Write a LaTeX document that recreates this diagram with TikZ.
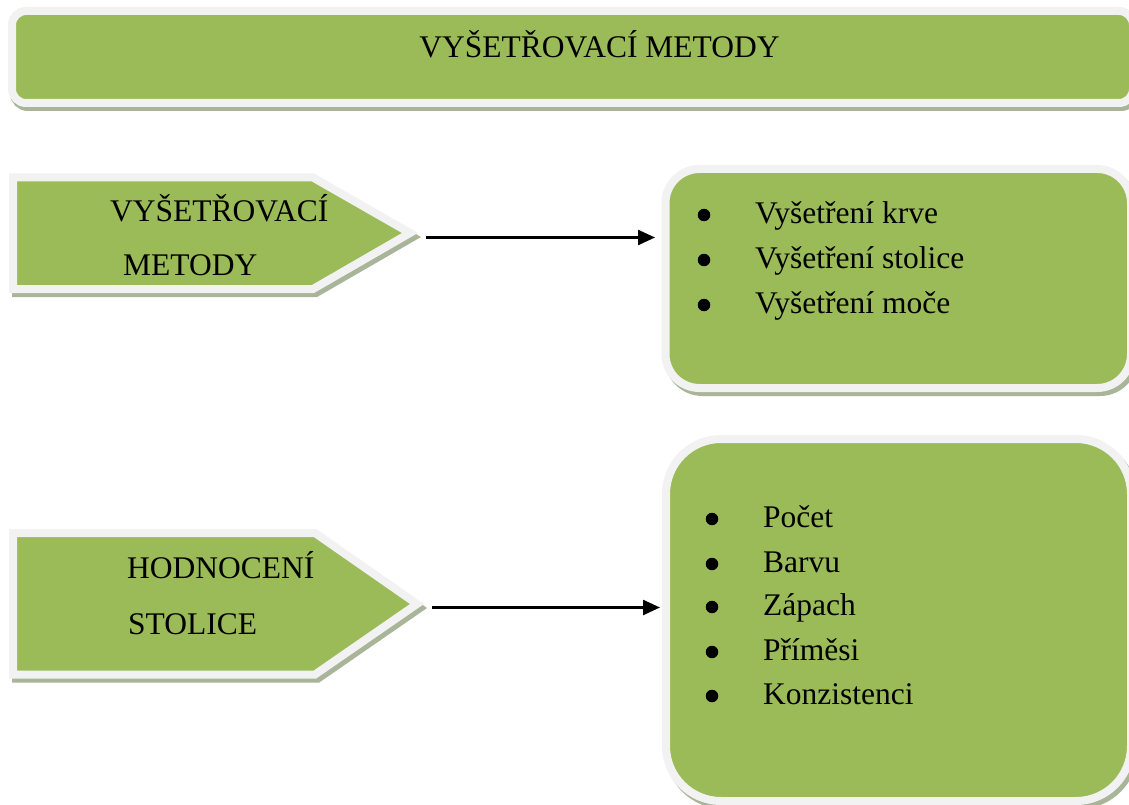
\documentclass[tikz,border=0pt]{standalone}
\usepackage{fontspec}
\setmainfont{Liberation Serif}
\usetikzlibrary{arrows.meta}
\definecolor{grn}{HTML}{9BBB59}
\definecolor{rim}{HTML}{F2F2F2}
\definecolor{shd}{HTML}{A8B598}
\begin{document}
\begin{tikzpicture}[x=1pt,y=-1pt,
  greenshape/.style={fill=grn, draw=rim, line width=8pt},
  shadowshape/.style={fill=shd, draw=shd, line width=8pt},
  boxnode/.style={greenshape, inner sep=0pt},
  txt/.style={inner sep=0pt, font=\fontsize{31.5}{38}\selectfont, anchor=base west},
  bul/.style={circle, fill=black, inner sep=0pt, minimum size=12.5pt},
  arr/.style={line width=2.4pt, -{Triangle[length=17pt,width=15pt]}}]
\useasboundingbox (0,0) rectangle (1129,805);
\fill[white] (0,0) rectangle (1129,805);

% title banner
\path[shadowshape, rounded corners=14pt] (14,15) rectangle (1135,107);
\node[boxnode, rounded corners=14pt, minimum width=1121pt, minimum height=92pt] (title) at (572.5,57) {};
\node[inner sep=0pt, anchor=base, font=\fontsize{31.5}{38}\selectfont] (titletext) at (599.5,58) {VYŠETŘOVACÍ METODY};

% pentagon 1
\path[shadowshape] (16,181.5) -- (316,181.5) -- (413,237) -- (316,293) -- (16,293) -- cycle;
\path[greenshape] (13,177.5) -- (313,177.5) -- (410,233) -- (313,289) -- (13,289) -- cycle;
\node[txt] (p1a) at (110,221) {VYŠETŘOVACÍ};
\node[txt] (p1b) at (123,275) {METODY};
\coordinate (a1s) at (426,237.5);

% pentagon 2
\path[shadowshape] (16,537) -- (318,537) -- (420,608) -- (318,678.5) -- (16,678.5) -- cycle;
\path[greenshape] (13,533) -- (315,533) -- (417,604) -- (315,674.5) -- (13,674.5) -- cycle;
\node[txt] (p2a) at (127,578) {HODNOCENÍ};
\node[txt] (p2b) at (128,634) {STOLICE};
\coordinate (a2s) at (432,607.5);

% box 1
\path[shadowshape, rounded corners=34pt] (668.5,173) rectangle (1134,392);
\node[boxnode, rounded corners=34pt, minimum width=465.5pt, minimum height=219pt] (box1) at (898.25,278.5) {};
\node[bul] (b1a) at (704,215) {};
\node[txt] (t1a) at (755,223) {Vyšetření krve};
\node[bul] (b1b) at (704,260) {};
\node[txt] (t1b) at (755,268) {Vyšetření stolice};
\node[bul] (b1c) at (704,305) {};
\node[txt] (t1c) at (755,313) {Vyšetření moče};

% box 2
\path[shadowshape, rounded corners=55pt] (669,443) rectangle (1134,805);
\node[boxnode, rounded corners=55pt, minimum width=465pt, minimum height=362pt] (box2) at (898.5,620) {};
\node[bul] (b2a) at (712,519) {};
\node[txt] (t2a) at (763,527) {Počet};
\node[bul] (b2b) at (712,564) {};
\node[txt] (t2b) at (763,572) {Barvu};
\node[bul] (b2c) at (712,607) {};
\node[txt] (t2c) at (763,615) {Zápach};
\node[bul] (b2d) at (712,652) {};
\node[txt] (t2d) at (763,660) {Příměsi};
\node[bul] (b2e) at (712,696) {};
\node[txt] (t2e) at (763,704) {Konzistenci};

% arrows
\draw[arr, shorten >=6.5pt] (a1s) -- (a1s -| box1.west);
\draw[arr, shorten >=2pt] (a2s) -- (a2s -| box2.west);
\end{tikzpicture}
\end{document}
